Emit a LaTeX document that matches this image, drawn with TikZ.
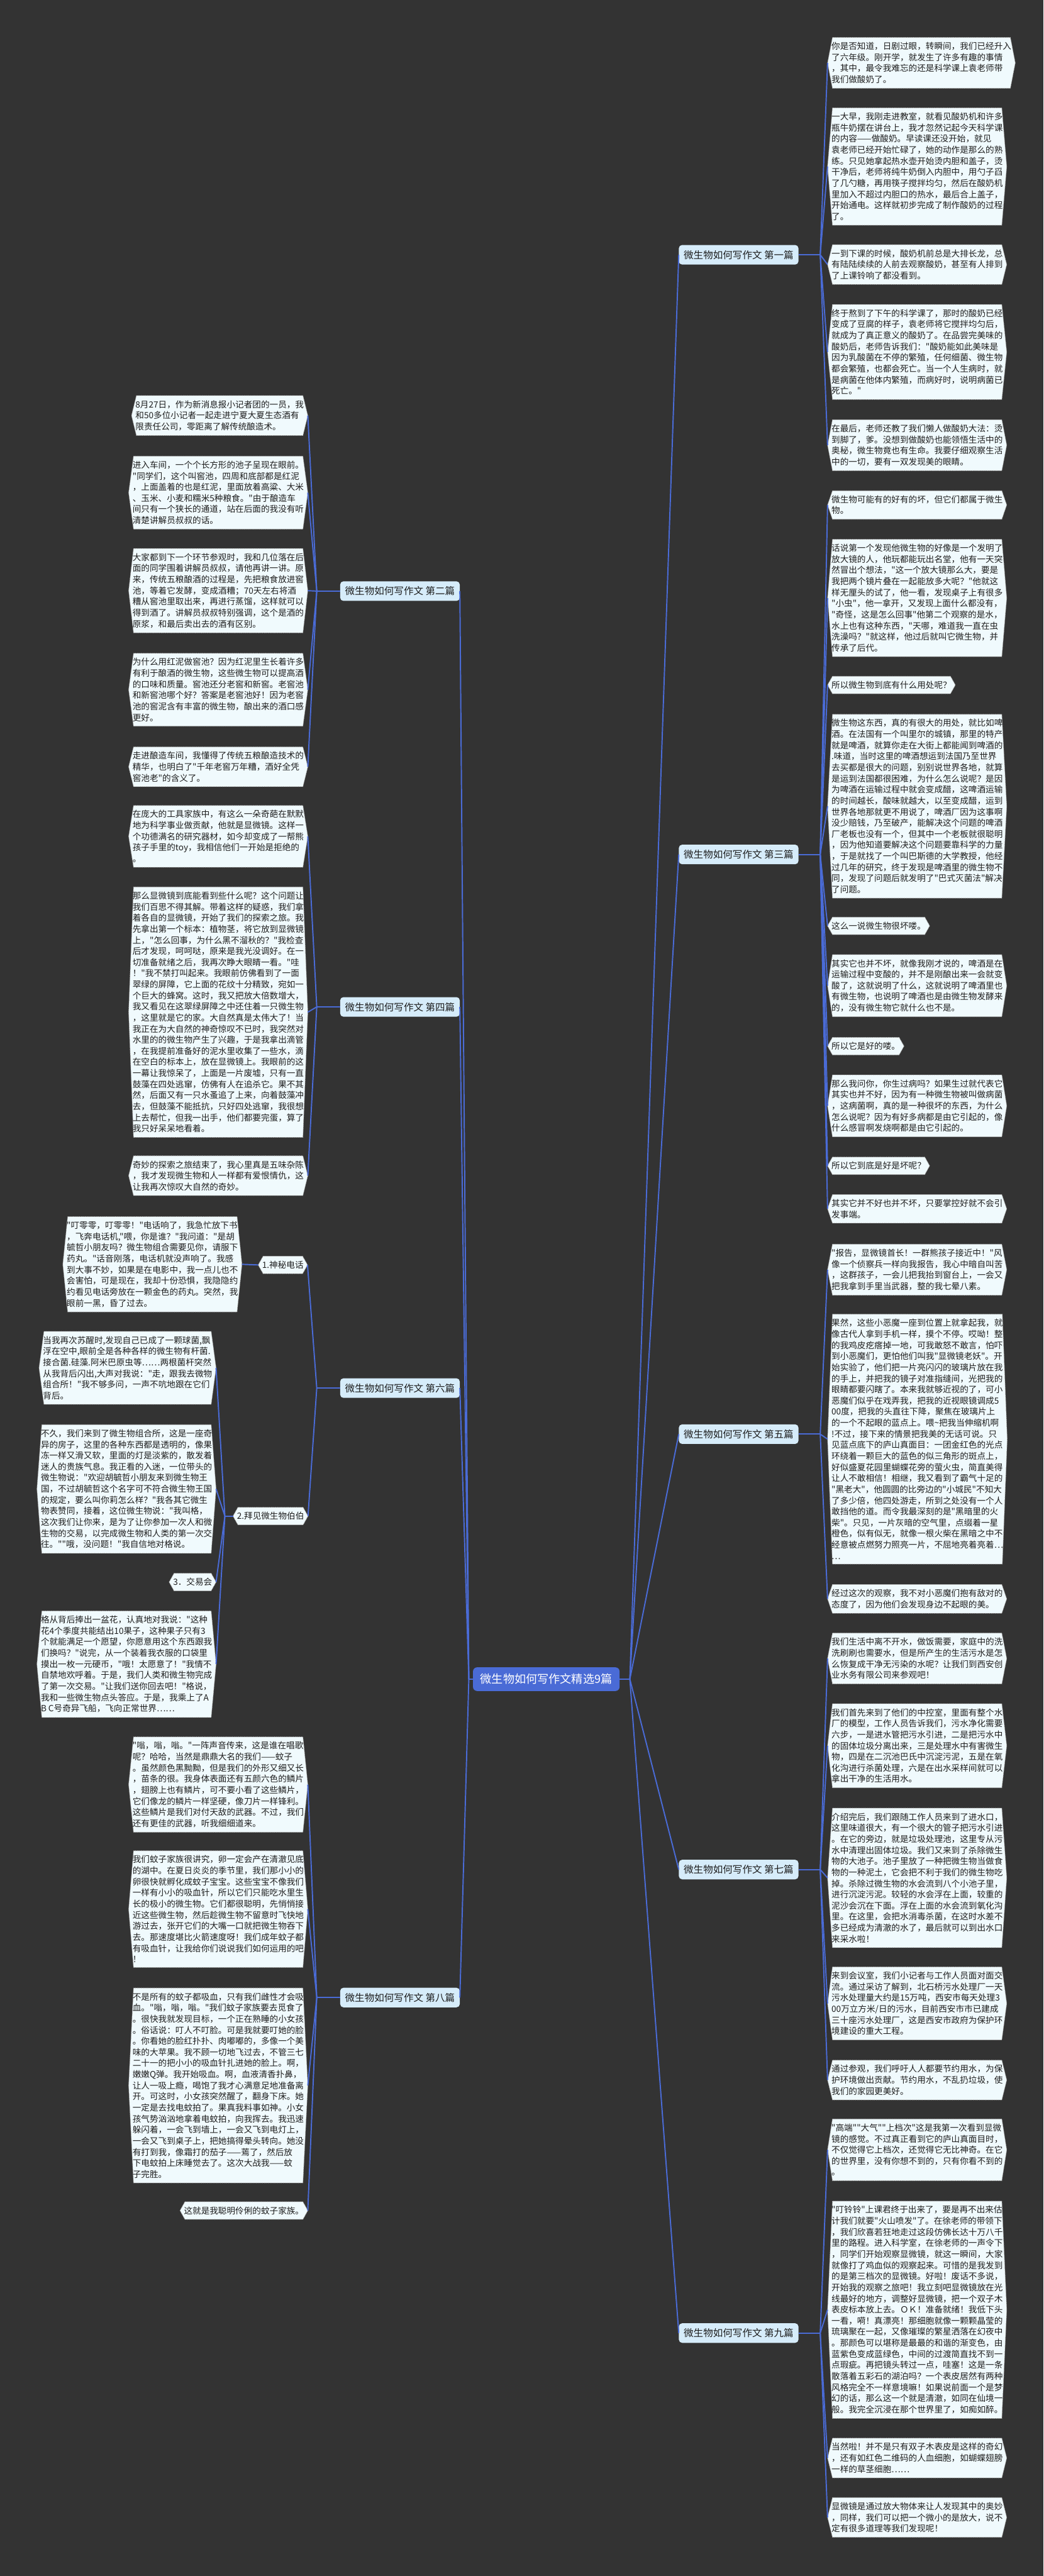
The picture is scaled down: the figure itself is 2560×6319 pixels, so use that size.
\documentclass[tikz,border=0pt]{standalone}
\usepackage{fontspec}
\newfontfamily\cjk{Noto Sans CJK SC}
\usetikzlibrary{calc}
\pgfdeclarelayer{bg}
\pgfsetlayers{bg,main}
\definecolor{bgc}{HTML}{333333}
\definecolor{leafc}{HTML}{F0FAFD}
\definecolor{linec}{HTML}{4A6BD6}
\definecolor{txtc}{HTML}{1E1E1E}
\definecolor{branchc}{HTML}{D6ECFA}
\definecolor{rootc}{HTML}{4A6BD6}
\tikzset{
  leaf/.style={font=\cjk\fontsize{21}{27.2}\selectfont, text=txtc, align=left, inner xsep=9.5pt, inner ysep=11.5pt},
  leafshape/.style={fill=leafc, draw=gray!60, densely dotted, line width=1.2pt},
  conn/.style={draw=linec, line width=3pt},
  branch/.style={font=\cjk\fontsize{24}{28}\selectfont, text=txtc, fill=branchc, rounded corners=8pt, inner xsep=12pt, inner ysep=10pt, minimum height=48pt},
  root/.style={font=\cjk\fontsize{28}{32}\selectfont, text=white, fill=rootc, rounded corners=10pt, inner xsep=18pt, inner ysep=16pt}
}
\newcommand\mkleaf[4]{%
  \node[leaf,anchor=#2] (#1) at (#3) {#4};
  \begin{pgfonlayer}{bg}
    \path[leafshape] ([xshift=12pt]#1.north west) -- ([xshift=-12pt]#1.north east) -- (#1.east) -- ([xshift=-12pt]#1.south east) -- ([xshift=12pt]#1.south west) -- (#1.west) -- cycle;
  \end{pgfonlayer}}
\begin{document}
\begin{tikzpicture}[x=1pt,y=-1pt]
\begin{pgfonlayer}{bg}
\fill[bgc] (0,0) rectangle (2560,6319);
\end{pgfonlayer}
\useasboundingbox (0,0) rectangle (2560,6319);

% root and branches
\node[root] (root) at (1340,4119) {微生物如何写作文精选9篇};
\node[branch,anchor=west] (b1) at (1665,625) {微生物如何写作文 第一篇};
\node[branch,anchor=west] (b3) at (1665,2096) {微生物如何写作文 第三篇};
\node[branch,anchor=west] (b5) at (1665,3518) {微生物如何写作文 第五篇};
\node[branch,anchor=west] (b7) at (1665,4586) {微生物如何写作文 第七篇};
\node[branch,anchor=west] (b9) at (1665,5723) {微生物如何写作文 第九篇};
\node[branch,anchor=east] (b2) at (1128,1450) {微生物如何写作文 第二篇};
\node[branch,anchor=east] (b4) at (1128,2470) {微生物如何写作文 第四篇};
\node[branch,anchor=east] (b6) at (1128,3405) {微生物如何写作文 第六篇};
\node[branch,anchor=east] (b8) at (1128,4900) {微生物如何写作文 第八篇};

% ---------- right leaves ----------
\mkleaf{r1}{north west}{2030,92}{你是否知道，日剧过眼，转瞬间，我们已经升入\\了六年级。刚开学，就发生了许多有趣的事情\\，其中，最令我难忘的还是科学课上袁老师带\\我们做酸奶了。}
\mkleaf{r2}{north west}{2030,264.6}{一大早，我刚走进教室，就看见酸奶机和许多\\瓶牛奶摆在讲台上，我才忽然记起今天科学课\\的内容——做酸奶。早读课还没开始，就见\\袁老师已经开始忙碌了，她的动作是那么的熟\\练。只见她拿起热水壶开始烫内胆和盖子，烫\\干净后，老师将纯牛奶倒入内胆中，用勺子舀\\了几勺糖，再用筷子搅拌均匀，然后在酸奶机\\里加入不超过内胆口的热水，最后合上盖子，\\开始通电。这样就初步完成了制作酸奶的过程\\了。}
\mkleaf{r3}{north west}{2030,600.3}{一到下课的时候，酸奶机前总是大排长龙，总\\有陆陆续续的人前去观察酸奶，甚至有人排到\\了上课铃响了都没看到。}
\mkleaf{r4}{north west}{2030,747}{终于熬到了下午的科学课了，那时的酸奶已经\\变成了豆腐的样子，袁老师将它搅拌均匀后，\\就成为了真正意义的酸奶了。在品尝完美味的\\酸奶后，老师告诉我们："酸奶能如此美味是\\因为乳酸菌在不停的繁殖，任何细菌、微生物\\都会繁殖，也都会死亡。当一个人生病时，就\\是病菌在他体内繁殖，而病好时，说明病菌已\\死亡。"}
\mkleaf{r5}{north west}{2030,1029.6}{在最后，老师还教了我们懒人做酸奶大法：烫\\到脚了，爹。没想到做酸奶也能领悟生活中的\\奥秘，微生物竟也有生命。我要仔细观察生活\\中的一切，要有一双发现美的眼睛。}
\mkleaf{r6}{north west}{2030,1203.7}{微生物可能有的好有的坏，但它们都属于微生\\物。}
\mkleaf{r7}{north west}{2030,1323}{话说第一个发现他微生物的好像是一个发明了\\放大镜的人，他玩都能玩出名堂，他有一天突\\然冒出个想法，"这一个放大镜那么大，要是\\我把两个镜片叠在一起能放多大呢？"他就这\\样无厘头的试了，他一看，发现桌子上有很多\\"小虫"，他一拿开，又发现上面什么都没有，\\"奇怪，这是怎么回事"他第二个观察的是水，\\水上也有这种东西，"天哪，难道我一直在虫\\洗澡吗？"就这样，他过后就叫它微生物，并\\传承了后代。}
\mkleaf{r8}{north west}{2030,1658.8}{所以微生物到底有什么用处呢？}
\mkleaf{r9}{north west}{2030,1752.3}{微生物这东西，真的有很大的用处，就比如啤\\酒。在法国有一个叫里尔的城镇，那里的特产\\就是啤酒，就算你走在大街上都能闻到啤酒的\\.味道，当时这里的啤酒想运到法国乃至世界\\去买都是很大的问题，别别说世界各地，就算\\是运到法国都很困难，为什么怎么说呢？是因\\为啤酒在运输过程中就会变成醋，这啤酒运输\\的时间越长，酸味就越大，以至变成醋，运到\\世界各地那就更不用说了，啤酒厂因为这事啊\\没少赔钱，乃至破产，能解决这个问题的啤酒\\厂老板也没有一个，但其中一个老板就很聪明\\，因为他知道要解决这个问题要靠科学的力量\\，于是就找了一个叫巴斯德的大学教授，他经\\过几年的研究，终于发现是啤酒里的微生物不\\同，发现了问题后就发明了"巴式灭菌法"解决\\了问题。}
\mkleaf{r10}{north west}{2030,2249.7}{这么一说微生物很坏喽。}
\mkleaf{r11}{north west}{2030,2341.8}{其实它也并不坏，就像我刚才说的，啤酒是在\\运输过程中变酸的，并不是刚酿出来一会就变\\酸了，这就说明了什么，这就说明了啤酒里也\\有微生物，也说明了啤酒也是由微生物发酵来\\的，没有微生物它就什么也不是。}
\mkleaf{r12}{north west}{2030,2544.7}{所以它是好的喽。}
\mkleaf{r13}{north west}{2030,2636.7}{那么我问你，你生过病吗？如果生过就代表它\\其实也并不好，因为有一种微生物被叫做病菌\\，这病菌啊，真的是一种很坏的东西，为什么\\怎么说呢？因为有好多病都是由它引起的，像\\什么感冒啊发烧啊都是由它引起的。}
\mkleaf{r14}{north west}{2030,2838.2}{所以它到底是好是坏呢？}
\mkleaf{r15}{north west}{2030,2930.2}{其实它并不好也并不坏，只要掌控好就不会引\\发事端。}
\mkleaf{r16}{north west}{2030,3052}{"报告，显微镜首长！一群熊孩子接近中！"风\\像一个侦察兵一样向我报告，我心中暗自叫苦\\，这群孩子，一会儿把我抬到窗台上，一会又\\把我拿到手里当武器，整的我七晕八素。}
\mkleaf{r17}{north west}{2030,3223.7}{果然，这些小恶魔一座到位置上就拿起我，就\\像古代人拿到手机一样，摸个不停。哎呦！整\\的我鸡皮疙瘩掉一地，可我敢怒不敢言，怕吓\\到小恶魔们，更怕他们叫我"显微镜老妖"。开\\始实验了，他们把一片亮闪闪的玻璃片放在我\\的手上，并把我的镜子对准指缝间，光把我的\\眼睛都要闪瞎了。本来我就够近视的了，可小\\恶魔们似乎在戏弄我，把我的近视眼镜调成5\\00度，把我的头直往下降，聚焦在玻璃片上\\的一个不起眼的蓝点上。喂\textasciitilde 把我当伸缩机啊\\!不过，接下来的情景把我美的无话可说。只\\见蓝点底下的庐山真面目：一团金红色的光点\\环绕着一颗巨大的蓝色的似三角形的斑点上，\\好似盛夏花园里蝴蝶花旁的萤火虫，简直美得\\让人不敢相信！相继，我又看到了霸气十足的\\"黑老大"，他圆圆的比旁边的"小城民"不知大\\了多少倍，他四处游走，所到之处没有一个人\\敢挡他的道。而令我最深刻的是"黑暗里的火\\柴"。只见，一片灰暗的空气里，点缀着一星\\橙色，似有似无，就像一根火柴在黑暗之中不\\经意被点燃努力照亮一片，不屈地亮着亮着…\\…}
\mkleaf{r18}{north west}{2030,3886.7}{经过这次的观察，我不对小恶魔们抱有敌对的\\态度了，因为他们会发现身边不起眼的美。}
\mkleaf{r19}{north west}{2030,4006}{我们生活中离不开水，做饭需要，家庭中的洗\\洗刷刷也需要水，但是所产生的生活污水是怎\\么恢复成干净无污染的水呢？让我们到西安创\\业水务有限公司来参观吧！}
\mkleaf{r20}{north west}{2030,4179.2}{我们首先来到了他们的中控室，里面有整个水\\厂的模型，工作人员告诉我们，污水净化需要\\六步，一是进水管把污水引进，二是把污水中\\的固体垃圾分离出来，三是处理水中有害微生\\物，四是在二沉池巴氏中沉淀污泥，五是在氧\\化沟进行杀菌处理，六是在出水采样间就可以\\拿出干净的生活用水。}
\mkleaf{r21}{north west}{2030,4435.4}{介绍完后，我们跟随工作人员来到了进水口，\\这里味道很大，有一个很大的管子把污水引进\\。在它的旁边，就是垃圾处理池，这里专从污\\水中清理出固体垃圾。我们又来到了杀除微生\\物的大池子。池子里放了一种把微生物当做食\\物的一种泥土，它会把不利于我们的微生物吃\\掉。杀除过微生物的水会流到八个小池子里，\\进行沉淀污泥。较轻的水会浮在上面，较重的\\泥沙会沉在下面。浮在上面的水会流到氧化沟\\里。在这里，会把水消毒杀菌，在这时水差不\\多已经成为清澈的水了，最后就可以到出水口\\来采水啦！}
\mkleaf{r22}{north west}{2030,4824.9}{来到会议室，我们小记者与工作人员面对面交\\流。通过采访了解到，北石桥污水处理厂一天\\污水处理量大约是15万吨，西安市每天处理3\\00万立方米/日的污水，目前西安市市已建成\\三十座污水处理厂，这是西安市政府为保护环\\境建设的重大工程。}
\mkleaf{r23}{north west}{2030,5053.7}{通过参观，我们呼吁人人都要节约用水，为保\\护环境做出贡献。节约用水，不乱扔垃圾，使\\我们的家园更美好。}
\mkleaf{r24}{north west}{2030,5197.9}{"高端""大气""上档次"这是我第一次看到显微\\镜的感觉。不过真正看到它的庐山真面目时，\\不仅觉得它上档次，还觉得它无比神奇。在它\\的世界里，没有你想不到的，只有你看不到的\\。}
\mkleaf{r25}{north west}{2030,5399.4}{"叮铃铃"上课君终于出来了，要是再不出来估\\计我们就要"火山喷发"了。在徐老师的带领下\\，我们欣喜若狂地走过这段仿佛长达十万八千\\里的路程。进入科学室，在徐老师的一声令下\\，同学们开始观察显微镜，就这一瞬间，大家\\就像打了鸡血似的观察起来。可惜的是我发到\\的是第三档次的显微镜。好啦！废话不多说，\\开始我的观察之旅吧！我立刻吧显微镜放在光\\线最好的地方，调整好显微镜，把一个双子木\\表皮标本放上去。ＯＫ！准备就绪！我低下头\\一看，嗬！真漂亮！那细胞就像一颗颗晶莹的\\琉璃聚在一起，又像璀璨的繁星洒落在幻夜中\\。那颜色可以堪称是最最的和谐的渐变色，由\\蓝紫色变成蓝绿色，中间的过渡简直找不到一\\点瑕疵。再把镜头转过一点，哇塞！这是一条\\散落着五彩石的湖泊吗？一个表皮居然有两种\\风格完全不一样意境嘛！如果说前面一个是梦\\幻的话，那么这一个就是清澈，如同在仙境一\\般。我完全沉浸在那个世界里了，如痴如醉。}
\mkleaf{r26}{north west}{2030,5980.8}{当然啦！并不是只有双子木表皮是这样的奇幻\\，还有如红色二维码的人血细胞，如蝴蝶翅膀\\一样的草茎细胞……}
\mkleaf{r27}{north west}{2030,6126.5}{显微镜是通过放大物体来让人发现其中的奥妙\\，同样，我们可以把一个微小的是放大，说不\\定有很多道理等我们发现呢！}

% ---------- left leaves ----------
\mkleaf{l1}{north east}{755,970.4}{8月27日，作为新消息报小记者团的一员，我\\和50多位小记者一起走进宁夏大夏生态酒有\\限责任公司，零距离了解传统酿造术。}
\mkleaf{l2}{north east}{755,1119}{进入车间，一个个长方形的池子呈现在眼前。\\"同学们，这个叫窖池，四周和底部都是红泥\\，上面盖着的也是红泥，里面放着高粱、大米\\、玉米、小麦和糯米5种粮食。"由于酿造车\\间只有一个狭长的通道，站在后面的我没有听\\清楚讲解员叔叔的话。}
\mkleaf{l3}{north east}{755,1345.6}{大家都到下一个环节参观时，我和几位落在后\\面的同学围着讲解员叔叔，请他再讲一讲。原\\来，传统五粮酿酒的过程是，先把粮食放进窖\\池，等着它发酵，变成酒糟；70天左右将酒\\糟从窖池里取出来，再进行蒸馏，这样就可以\\得到酒了。讲解员叔叔特别强调，这个是酒的\\原浆，和最后卖出去的酒有区别。}
\mkleaf{l4}{north east}{755,1602.5}{为什么用红泥做窖池？因为红泥里生长着许多\\有利于酿酒的微生物，这些微生物可以提高酒\\的口味和质量。窖池还分老窖和新窖。老窖池\\和新窖池哪个好？答案是老窖池好！因为老窖\\池的窖泥含有丰富的微生物，酿出来的酒口感\\更好。}
\mkleaf{l5}{north east}{755,1832.3}{走进酿造车间，我懂得了传统五粮酿造技术的\\精华，也明白了"千年老窖万年糟，酒好全凭\\窖池老"的含义了。}
\mkleaf{l6}{north east}{755,1976}{在庞大的工具家族中，有这么一朵奇葩在默默\\地为科学事业做贡献，他就是显微镜。这样一\\个功德满名的研究器材，如今却变成了一帮熊\\孩子手里的toy，我相信他们一开始是拒绝的\\。}
\mkleaf{l7}{north east}{755,2175.8}{那么显微镜到底能看到些什么呢？这个问题让\\我们百思不得其解。带着这样的疑惑，我们拿\\着各自的显微镜，开始了我们的探索之旅。我\\先拿出第一个标本：植物茎，将它放到显微镜\\上，"怎么回事，为什么黑不溜秋的？"我检查\\后才发现，呵呵哒，原来是我光没调好。在一\\切准备就绪之后，我再次睁大眼睛一看。"哇\\！"我不禁打叫起来。我眼前仿佛看到了一面\\翠绿的屏障，它上面的花纹十分精致，宛如一\\个巨大的蜂窝。这时，我又把放大倍数增大，\\我又看见在这翠绿屏障之中还住着一只微生物\\，这里就是它的家。大自然真是太伟大了！当\\我正在为大自然的神奇惊叹不已时，我突然对\\水里的的微生物产生了兴趣，于是我拿出滴管\\，在我提前准备好的泥水里收集了一些水，滴\\在空白的标本上，放在显微镜上。我眼前的这\\一幕让我惊呆了，上面是一片废墟，只有一直\\鼓藻在四处逃窜，仿佛有人在追杀它。果不其\\然，后面又有一只水蚤追了上来，向着鼓藻冲\\去，但鼓藻不能抵抗，只好四处逃窜，我很想\\上去帮忙，但我一出手，他们都要完蛋，算了\\我只好呆呆地看着。}
\mkleaf{l8}{north east}{755,2835.3}{奇妙的探索之旅结束了，我心里真是五味杂陈\\，我才发现微生物和人一样都有爱恨情仇，这\\让我再次惊叹大自然的奇妙。}
\mkleaf{s1}{west}{633.4,3102.9}{1.神秘电话}
\mkleaf{s2}{west}{571.6,3719}{2.拜见微生物伯伯}
\mkleaf{l9}{north east}{593.5,2984.5}{"叮零零，叮零零！"电话响了，我急忙放下书\\，飞奔电话机,"喂，你是谁？"我问道："是胡\\毓哲小朋友吗？微生物组合需要见你，请服下\\药丸。"话音刚落，电话机就没声响了。我感\\到大事不妙，如果是在电影中，我一点儿也不\\会害怕，可是现在，我却十份恐惧，我隐隐约\\约看见电话旁放在一颗金色的药丸。突然，我\\眼前一黑，昏了过去。}
\mkleaf{l10}{north east}{530,3266}{当我再次苏醒时,发现自己已成了一颗球菌,飘\\浮在空中,眼前全是各种各样的微生物有杆菌.\\接合菌.硅藻.阿米巴原虫等……两根菌杆突然\\从我背后闪出,大声对我说："走，跟我去微物\\组合所！"我不够多问，一声不吭地跟在它们\\背后。}
\mkleaf{l11}{north east}{530,3494.7}{不久，我们来到了微生物组合所，这是一座奇\\异的房子，这里的各种东西都是透明的，像果\\冻一样又滑又软，里面的灯是淡紫的，散发着\\迷人的贵族气息。我正看的入迷，一位带头的\\微生物说："欢迎胡毓哲小朋友来到微生物王\\国，不过胡毓哲这个名字可不符合微生物王国\\的规定，要么叫你莉怎么样？"我各其它微生\\物表赞同，接着，这位微生物说："我叫格，\\这次我们让你来，是为了让你参加一次人和微\\生物的交易，以完成微生物和人类的第一次交\\往。""哦，没问题！"我自信地对格说。}
\mkleaf{jy}{east}{530,3880.8}{3．交易会}
\mkleaf{l12}{north east}{530,3951.8}{格从背后捧出一盆花，认真地对我说："这种\\花4个季度共能结出10果子，这种果子只有3\\个就能满足一个愿望，你愿意用这个东西跟我\\们换吗？"说完，从一个装着我衣服的口袋里\\摸出一枚一元硬币，"哦！太愿意了！"我情不\\自禁地欢呼着。于是，我们人类和微生物完成\\了第一次交易。"让我们送你回去吧！"格说，\\我和一些微生物点头答应。于是，我乘上了A\\B C号奇异飞船，飞向正常世界……}
\mkleaf{l13}{north east}{755,4260.6}{"嗡，嗡，嗡。"一阵声音传来，这是谁在唱歌\\呢？哈哈，当然是鼎鼎大名的我们——蚊子\\。虽然颜色黑黝黝，但是我们的外形又细又长\\，苗条的很。我身体表面还有五颜六色的鳞片\\，翅膀上也有鳞片，可不要小看了这些鳞片，\\它们像龙的鳞片一样坚硬，像刀片一样锋利。\\这些鳞片是我们对付天敌的武器。不过，我们\\还有更佳的武器，听我细细道来。}
\mkleaf{l14}{north east}{755,4540}{我们蚊子家族很讲究，卵一定会产在清澈见底\\的湖中。在夏日炎炎的季节里，我们那小小的\\卵很快就孵化成蚊子宝宝。这些宝宝不像我们\\一样有小小的吸血针，所以它们只能吃水里生\\长的极小的微生物。它们都很聪明，先悄悄接\\近这些微生物，然后趁微生物不留意时飞快地\\游过去，张开它们的大嘴一口就把微生物吞下\\去。那速度堪比火箭速度呀！我们成年蚊子都\\有吸血针，让我给你们说说我们如何运用的吧\\！}
\mkleaf{l15}{north east}{755,4876.7}{不是所有的蚊子都吸血，只有我们雌性才会吸\\血。"嗡，嗡，嗡。"我们蚊子家族要去觅食了\\。很快我就发现目标，一个正在熟睡的小女孩\\。俗话说：叮人不叮脸。可是我就要叮她的脸\\。你看她的脸红扑扑、肉嘟嘟的，多像一个美\\味的大苹果。我不顾一切地飞过去，不管三七\\二十一的把小小的吸血针扎进她的脸上。啊，\\嫩嫩Q弹。我开始吸血。啊，血液清香扑鼻，\\让人一吸上瘾，喝饱了我才心满意足地准备离\\开。可这时，小女孩突然醒了，翻身下床。她\\一定是去找电蚊拍了。果真我料事如神。小女\\孩气势汹汹地拿着电蚊拍，向我挥去。我迅速\\躲闪着，一会飞到墙上，一会又飞到电灯上，\\一会又飞到桌子上，把她搞得晕头转向。她没\\有打到我，像霜打的茄子——蔫了，然后放\\下电蚊拍上床睡觉去了。这次大战我——蚊\\子完胜。}
\mkleaf{l16}{north east}{755,5401}{这就是我聪明伶俐的蚊子家族。}

% ---------- junctions ----------
\coordinate (j1) at (2012,625);
\coordinate (j3) at (2012,2096);
\coordinate (j5) at (2012,3518);
\coordinate (j7) at (2012,4586);
\coordinate (j9) at (2012,5723);
\coordinate (j2) at (777,1450);
\coordinate (j4) at (777,2470);
\coordinate (j6) at (777,3405);
\coordinate (j8) at (777,4900);
\coordinate (j62) at (551.6,3719);
\coordinate (jr) at (1545,4119);
\coordinate (jl) at (1150,4119);

% ---------- connectors ----------
\draw[conn] (root.east) -- (jr);
\draw[conn] (root.west) -- (jl);
\foreach \b in {b1,b3,b5,b7,b9} {\draw[conn] (jr) -- (\b.west);}
\foreach \b in {b2,b4,b6,b8} {\draw[conn] (jl) -- (\b.east);}
\draw[conn] (b1.east) -- (j1);
\foreach \n in {r1,r2,r3,r4,r5} {\draw[conn] (j1) -- (\n.west);}
\draw[conn] (b3.east) -- (j3);
\foreach \n in {r6,r7,r8,r9,r10,r11,r12,r13,r14,r15} {\draw[conn] (j3) -- (\n.west);}
\draw[conn] (b5.east) -- (j5);
\foreach \n in {r16,r17,r18} {\draw[conn] (j5) -- (\n.west);}
\draw[conn] (b7.east) -- (j7);
\foreach \n in {r19,r20,r21,r22,r23} {\draw[conn] (j7) -- (\n.west);}
\draw[conn] (b9.east) -- (j9);
\foreach \n in {r24,r25,r26,r27} {\draw[conn] (j9) -- (\n.west);}
\draw[conn] (b2.west) -- (j2);
\foreach \n in {l1,l2,l3,l4,l5} {\draw[conn] (j2) -- (\n.east);}
\draw[conn] (b4.west) -- (j4);
\foreach \n in {l6,l7,l8} {\draw[conn] (j4) -- (\n.east);}
\draw[conn] (b6.west) -- (j6);
\foreach \n in {s1,s2} {\draw[conn] (j6) -- (\n.east);}
\draw[conn] (s1.west) -- (l9.east);
\draw[conn] (s2.west) -- (j62);
\foreach \n in {l10,l11,jy,l12} {\draw[conn] (j62) -- (\n.east);}
\draw[conn] (b8.west) -- (j8);
\foreach \n in {l13,l14,l15,l16} {\draw[conn] (j8) -- (\n.east);}
\end{tikzpicture}
\end{document}
